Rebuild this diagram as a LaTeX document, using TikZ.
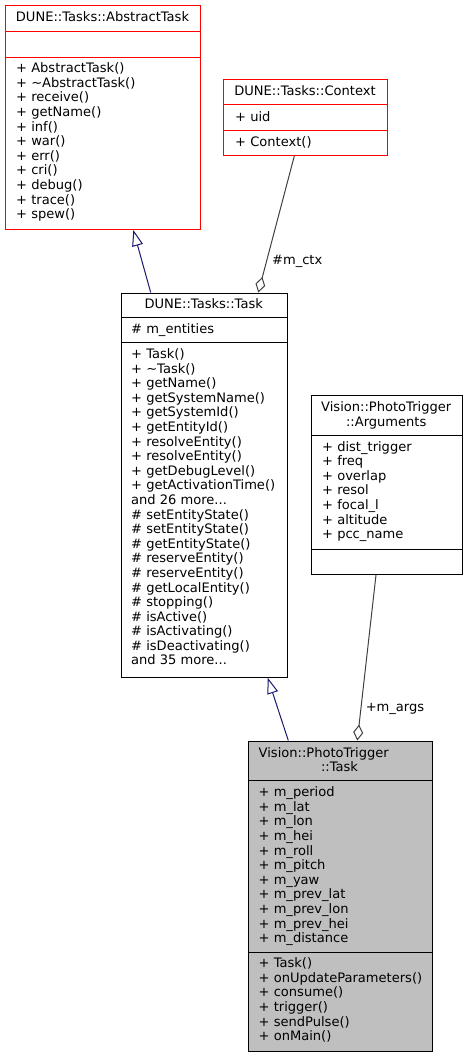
\documentclass[tikz,border=0pt]{standalone}
\usepackage{fontspec}
\setmainfont{DejaVu Sans}
\usetikzlibrary{arrows.meta,calc}
\definecolor{navy}{HTML}{191970}
\definecolor{edgegrey}{HTML}{404040}
\definecolor{boxgrey}{HTML}{BFBFBF}
\newcommand{\umlfont}{\fontsize{13.1}{14.65}\selectfont}
\tikzset{
  umlbox/.style={draw, line width=1bp, rectangle, inner sep=0pt, anchor=north west},
  redbox/.style={umlbox, draw=red, fill=white},
  blackbox/.style={umlbox, draw=black, fill=white},
  greybox/.style={umlbox, draw=black, fill=boxgrey},
  txt/.style={inner sep=0pt, font=\umlfont, align=left, anchor=north west},
  ttl/.style={inner sep=0pt, font=\umlfont, anchor=base},
  ttlw/.style={inner sep=0pt, font=\umlfont, anchor=base west},
  sepred/.style={draw=red, line width=1bp},
  sepblack/.style={draw=black, line width=1bp},
  inherit/.style={navy, line width=1bp, -{Triangle[open, length=16bp, width=11bp]}},
  aggr/.style={edgegrey, line width=1bp, {Diamond[open, length=16bp, width=10bp]}-},
  elabel/.style={inner sep=0pt, font=\umlfont, anchor=base},
}
\begin{document}
\begin{tikzpicture}[x=1bp, y=-1bp]
\useasboundingbox (0,0) rectangle (467,1057);
% ---------------- AbstractTask
\node[redbox, minimum width=195bp, minimum height=224bp] (abs) at (5,5) {};
\draw[sepred] (5,31) -- (200,31);
\draw[sepred] (5,57) -- (200,57);
\node[ttl] (absT) at (102.5,21.5) {DUNE::Tasks::AbstractTask};
\node[txt] (absM) at (16,62.35) {\strut + AbstractTask()\\+ \textasciitilde AbstractTask()\\+ receive()\\+ getName()\\+ inf()\\+ war()\\+ err()\\+ cri()\\+ debug()\\+ trace()\\+ spew()};
% ---------------- Context
\node[redbox, minimum width=163.4bp, minimum height=75.7bp] (ctx) at (223.3,79.3) {};
\draw[sepred] (223.3,104.5) -- (386.7,104.5);
\draw[sepred] (223.3,130.3) -- (386.7,130.3);
\node[ttl] (ctxT) at (305,95.2) {DUNE::Tasks::Context};
\node[txt] (ctxA) at (235,110.75) {\strut + uid};
\node[txt] (ctxM) at (235,135.75) {\strut + Context()};
% ---------------- Task
\node[blackbox, minimum width=166bp, minimum height=384.2bp] (task) at (120.7,292.5) {};
\draw[sepblack] (120.7,317.3) -- (286.7,317.3);
\draw[sepblack] (120.7,342.7) -- (286.7,342.7);
\node[ttl] (taskT) at (203.7,308.8) {DUNE::Tasks::Task};
\node[txt] (taskA) at (131,323.35) {\strut \# m\_entities};
\node[txt] (taskM) at (131,348.05) {\strut + Task()\\+ \textasciitilde Task()\\+ getName()\\+ getSystemName()\\+ getSystemId()\\+ getEntityId()\\+ resolveEntity()\\+ resolveEntity()\\+ getDebugLevel()\\+ getActivationTime()\\and 26 more...\\\# setEntityState()\\\# setEntityState()\\\# getEntityState()\\\# reserveEntity()\\\# reserveEntity()\\\# getLocalEntity()\\\# stopping()\\\# isActive()\\\# isActivating()\\\# isDeactivating()\\and 35 more...};
% ---------------- Arguments
\node[blackbox, minimum width=151.5bp, minimum height=179.5bp] (args) at (310.5,394.5) {};
\draw[sepblack] (310.5,435) -- (462,435);
\draw[sepblack] (310.5,549) -- (462,549);
\node[ttl] (argsT1) at (386.2,411.2) {Vision::PhotoTrigger};
\node[ttl] (argsT2) at (386.2,426.2) {::Arguments};
\node[txt] (argsA) at (322,440.75) {\strut + dist\_trigger\\+ freq\\+ overlap\\+ resol\\+ focal\_l\\+ altitude\\+ pcc\_name};
% ---------------- PhotoTrigger::Task
\node[greybox, minimum width=184bp, minimum height=310.5bp] (ptt) at (247.5,740.5) {};
\draw[sepblack] (247.5,780.7) -- (431.5,780.7);
\draw[sepblack] (247.5,952.3) -- (431.5,952.3);
\node[ttlw] (pttT1) at (258.5,757.2) {Vision::PhotoTrigger};
\node[ttl] (pttT2) at (339.5,771.2) {::Task};
\node[txt] (pttA) at (258.5,786.35) {\strut + m\_period\\+ m\_lat\\+ m\_lon\\+ m\_hei\\+ m\_roll\\+ m\_pitch\\+ m\_yaw\\+ m\_prev\_lat\\+ m\_prev\_lon\\+ m\_prev\_hei\\+ m\_distance};
\node[txt] (pttM) at (258.5,957.35) {\strut + Task()\\+ onUpdateParameters()\\+ consume()\\+ trigger()\\+ sendPulse()\\+ onMain()};
% ---------------- connectors
\draw[inherit] ($(task.north west)+(30,0)$) -- ($(abs.south west)+(128.3,0)$);
\draw[aggr] ($(task.north west)+(137.6,0)$) -- ($(ctx.south west)+(71,0)$);
\node[elabel] (lctx) at (297.2,264.5) {\#m\_ctx};
\draw[inherit] ($(ptt.north west)+(40.8,0)$) -- ($(task.south west)+(147,0)$);
\draw[aggr] ($(ptt.north west)+(109.8,0)$) -- ($(args.south west)+(65.5,0)$);
\node[elabel] (largs) at (395,711.8) {+m\_args};
\end{tikzpicture}
\end{document}
